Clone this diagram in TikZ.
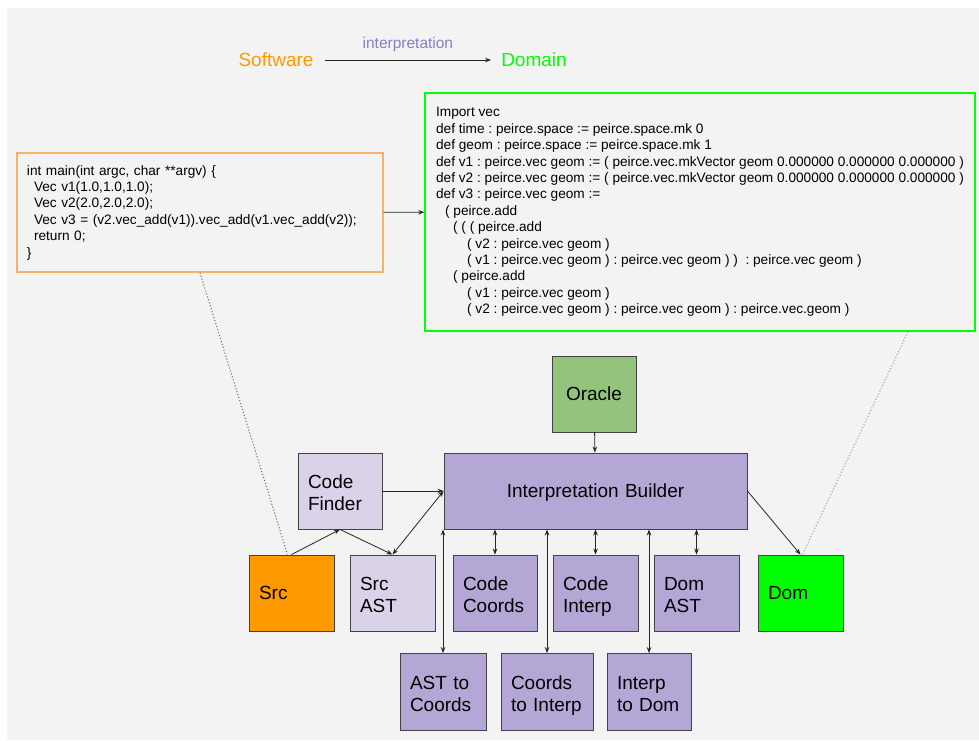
\documentclass[tikz,border=0pt]{standalone}
\usepackage{fontspec}
\setmainfont{Liberation Sans}
\usetikzlibrary{arrows.meta}
\definecolor{bgcol}{HTML}{F3F3F3}
\definecolor{edgecol}{HTML}{434343}
\definecolor{swcol}{HTML}{FF9900}
\definecolor{domcol}{HTML}{00FF00}
\definecolor{interpcol}{HTML}{8E7CC3}
\definecolor{srcedge}{HTML}{F6B26B}
\definecolor{oraclecol}{HTML}{93C47D}
\definecolor{purplecol}{HTML}{B4A7D6}
\definecolor{lilaccol}{HTML}{D9D2E9}
\frenchspacing

\begin{document}
\begin{tikzpicture}[x=1pt, y=-1pt, >={Stealth[length=6pt,width=4.5pt]},
  box/.style={draw=edgecol, line width=0.9pt, minimum height=76pt, inner xsep=10pt, inner ysep=0pt,
    text width=#1, text depth=18pt, align=left, font=\fontsize{19}{22}\selectfont},
  box/.default=65pt,
  oneline/.style={text depth=-3pt},
  code/.style={line width=1.4pt, inner xsep=10pt, inner ysep=0pt, align=left,
    font=\fontsize{13.65}{16.4}\selectfont},
  link/.style={draw=black!85, line width=0.8pt},
  hint/.style={line width=1.1pt, dotted}]

% background
\fill[white] (0,0) rectangle (979,740);
\fill[bgcol] (7,8) rectangle (979,740);

% Legend
\node[text=swcol, inner sep=11pt, font=\fontsize{19}{22}\selectfont] (sw) at (276,60) {Software};
\node[text=domcol, inner sep=10pt, font=\fontsize{19}{22}\selectfont] (dm) at (534,60) {Domain};
\draw[link, ->] (sw) -- node[above, inner sep=8pt, text=interpcol, font=\fontsize{15.5}{18}\selectfont] (interp) {interpretation} (dm);

% Code boxes
\node[code, draw=srcedge, text width=346pt, minimum height=119pt] (srccode) at (200,212.5) {%
int main(int argc, char **argv) \{\\
\hspace*{7pt}Vec v1(1.0,1.0,1.0);\\
\hspace*{7pt}Vec v2(2.0,2.0,2.0);\\
\hspace*{7pt}Vec v3 = (v2.vec\_add(v1)).vec\_add(v1.vec\_add(v2));\\
\hspace*{7pt}return 0;\\
\}};
\node[code, draw=domcol, minimum width=550pt, minimum height=238pt] (domcode) at (700,212) {%
Import vec\\
def time : peirce.space := peirce.space.mk 0\\
def geom : peirce.space := peirce.space.mk 1\\
def v1 : peirce.vec geom := ( peirce.vec.mkVector geom 0.000000 0.000000 0.000000 )\\
def v2 : peirce.vec geom := ( peirce.vec.mkVector geom 0.000000 0.000000 0.000000 )\\
def v3 : peirce.vec geom :=\\
\hspace*{9pt}( peirce.add\\
\hspace*{17pt}( ( ( peirce.add\\
\hspace*{31pt}( v2 : peirce.vec geom )\\
\hspace*{31pt}( v1 : peirce.vec geom ) : peirce.vec geom ) )\ \ : peirce.vec geom )\\
\hspace*{17pt}( peirce.add\\
\hspace*{31pt}( v1 : peirce.vec geom )\\
\hspace*{31pt}( v2 : peirce.vec geom ) : peirce.vec geom ) : peirce.vec.geom )};
\draw[link, ->] (srccode) -- (domcode);

% Builder and oracle
\node[box=64pt, oneline, fill=oraclecol, align=center] (oracle) at (594,394) {Oracle};
\node[box=283pt, oneline, fill=purplecol, align=center] (ib) at (595.5,491) {Interpretation Builder};
\node[box=64pt, fill=lilaccol] (cfind) at (340,491) {Code\\Finder};

% Middle row
\node[box, oneline, fill=swcol] (src) at (291.5,593) {Src};
\node[box, fill=lilaccol] (srcast) at (392.5,593) {Src\\AST};
\node[box=64pt, fill=purplecol] (ccoords) at (495,593) {Code\\Coords};
\node[box, fill=purplecol] (cinterp) at (595.5,593) {Code\\Interp};
\node[box, fill=purplecol] (domast) at (696.5,593) {Dom\\AST};
\node[box, oneline, fill=domcol] (dom) at (800.5,593) {Dom};

% Bottom row
\node[box=66pt, minimum height=77pt, fill=purplecol] (a2c) at (443,692) {AST to\\Coords};
\node[box=72pt, minimum height=77pt, fill=purplecol] (c2i) at (547,692) {Coords\\to Interp};
\node[box=64pt, minimum height=77pt, fill=purplecol] (i2d) at (649,692) {Interp\\to Dom};

% Connections
\draw[link, ->] (oracle) -- (ib);
\draw[link, ->] (cfind) -- (ib);
\draw[link, ->] (src.north) -- (cfind.south);
\draw[link, ->] (cfind.south) -- (srcast.north);
\draw[link, <->] (srcast.north) -- (ib.west);
\draw[link, ->] (ib.east) -- (dom.north);
\foreach \n in {a2c, ccoords, c2i, cinterp, i2d, domast}
	\draw[link, <->] (\n.north) -- (\n.north |- ib.south);

% Code to boxes
\draw[hint, black!55] (srccode.south) -- ([xshift=-4pt]src.north);
\draw[hint, black!35] ([xshift=208pt]domcode.south) -- ([xshift=2pt]dom.north);
\end{tikzpicture}
\end{document}
